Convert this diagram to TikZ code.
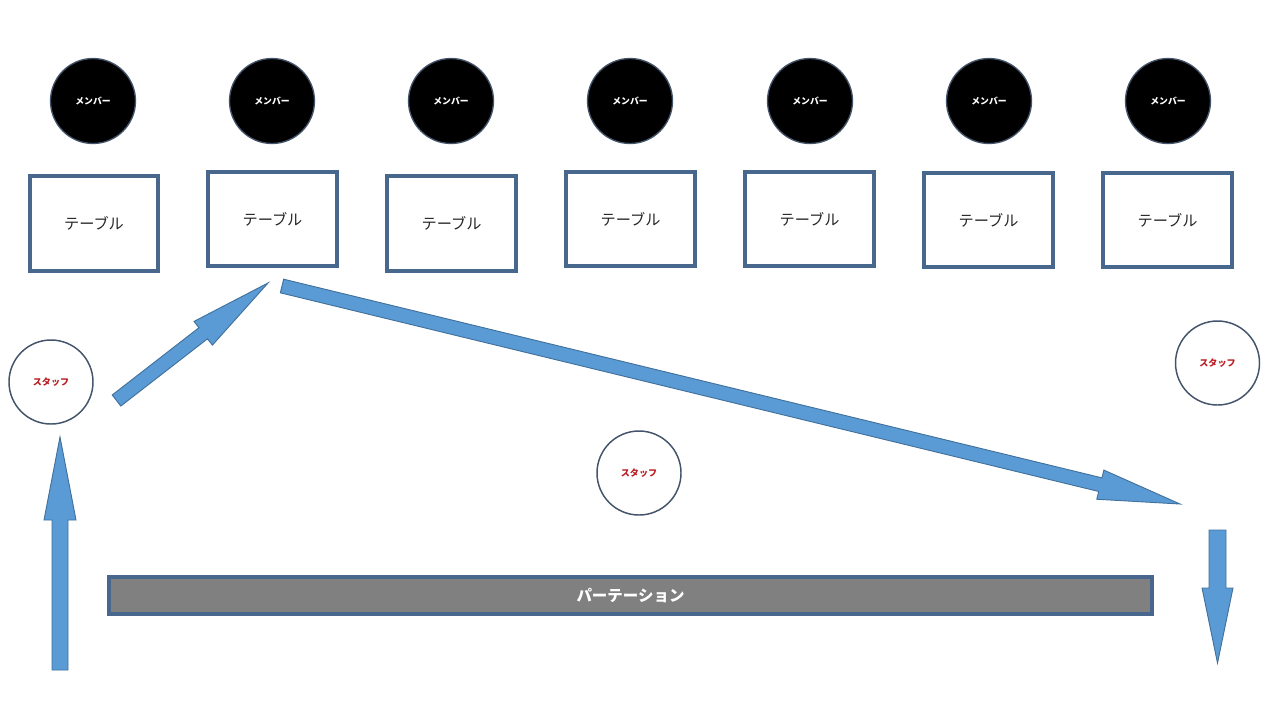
\documentclass[tikz,border=0pt]{standalone}
\usepackage{fontspec}
\setmainfont{Noto Sans CJK JP}
\usetikzlibrary{calc}
\definecolor{frame}{RGB}{71,104,140}
\definecolor{ring}{RGB}{68,84,106}
\definecolor{arrfill}{RGB}{91,155,213}
\definecolor{arredge}{RGB}{65,113,156}
\definecolor{staffred}{RGB}{185,30,35}
\definecolor{partgray}{RGB}{128,128,128}
\tikzset{
  member/.style={circle,fill=black,draw=ring,line width=1pt,minimum size=63.75pt,inner sep=0pt,
    text=white,font=\fontsize{6.6}{7}\selectfont\bfseries},
  tablebox/.style={rectangle,draw=frame,line width=3pt,fill=white,minimum width=96.5pt,minimum height=71pt,
    inner sep=0pt,text=black!85,font=\fontsize{11.4}{12}\selectfont},
  staffc/.style={circle,draw=ring,line width=1.1pt,fill=white,minimum size=63pt,inner sep=0pt,
    text=staffred,font=\fontsize{6.8}{7}\selectfont\bfseries},
  partbox/.style={rectangle,draw=frame,line width=3pt,fill=partgray,minimum width=782pt,minimum height=28pt,
    inner sep=0pt,text=white,font=\fontsize{11.6}{12}\selectfont\bfseries},
  arrsty/.style={fill=arrfill,draw=arredge,line width=0.7pt,line join=miter}
}
% block arrow: tail coord, tip coord, shaft half width, head half width, head length
\newcommand\blockarr[5]{%
  \coordinate (bb) at ($(#2)!#5!(#1)$);
  \draw[arrsty] ($(#1)!#3!90:(#2)$) -- ($(bb)!#3!90:(#2)$) -- ($(bb)!#4!90:(#2)$) -- (#2)
    -- ($(bb)!#4!-90:(#2)$) -- ($(bb)!#3!-90:(#2)$) -- ($(#1)!#3!-90:(#2)$) -- cycle;
}
\begin{document}
\begin{tikzpicture}[x=0.75pt,y=-0.75pt]
\useasboundingbox (0,0) rectangle (1280,715);
\fill[white] (0,0) rectangle (1280,715);
% members
\node[member] (m1) at (93,101) {メンバー};
\node[member] (m2) at (272,101) {メンバー};
\node[member] (m3) at (451,101) {メンバー};
\node[member] (m4) at (630,101) {メンバー};
\node[member] (m5) at (810,101) {メンバー};
\node[member] (m6) at (989,101) {メンバー};
\node[member] (m7) at (1168,101) {メンバー};
% tables
\node[tablebox] (t1) at (94,223.5) {テーブル};
\node[tablebox] (t2) at (272.5,219) {テーブル};
\node[tablebox] (t3) at (451.5,223.5) {テーブル};
\node[tablebox] (t4) at (630.5,219) {テーブル};
\node[tablebox] (t5) at (809.5,219) {テーブル};
\node[tablebox] (t6) at (988.5,220) {テーブル};
\node[tablebox] (t7) at (1167.5,220) {テーブル};
% staff
\node[staffc] (s1) at (51,382) {スタッフ};
\node[staffc] (s2) at (1217.5,363) {スタッフ};
\node[staffc] (s3) at (639,473) {スタッフ};
% partition
\node[partbox] (p) at (630.5,595.5) {パーテーション};
% arrows
\coordinate (aAt) at (60,670);    \coordinate (aAh) at (60,437);
\coordinate (aBt) at (116.5,400.5); \coordinate (aBh) at (268,283);
\coordinate (aCt) at (282,286);   \coordinate (aCh) at (1180,504);
\coordinate (aDt) at (1217.5,530); \coordinate (aDh) at (1217.5,663);
\blockarr{aAt}{aAh}{6pt}{12pt}{62.25pt}
\blockarr{aBt}{aBh}{5.25pt}{11.25pt}{61.5pt}
\blockarr{aCt}{aCh}{5.25pt}{11.25pt}{61.5pt}
\blockarr{aDt}{aDh}{6.375pt}{11.6pt}{56.25pt}
\end{tikzpicture}
\end{document}
